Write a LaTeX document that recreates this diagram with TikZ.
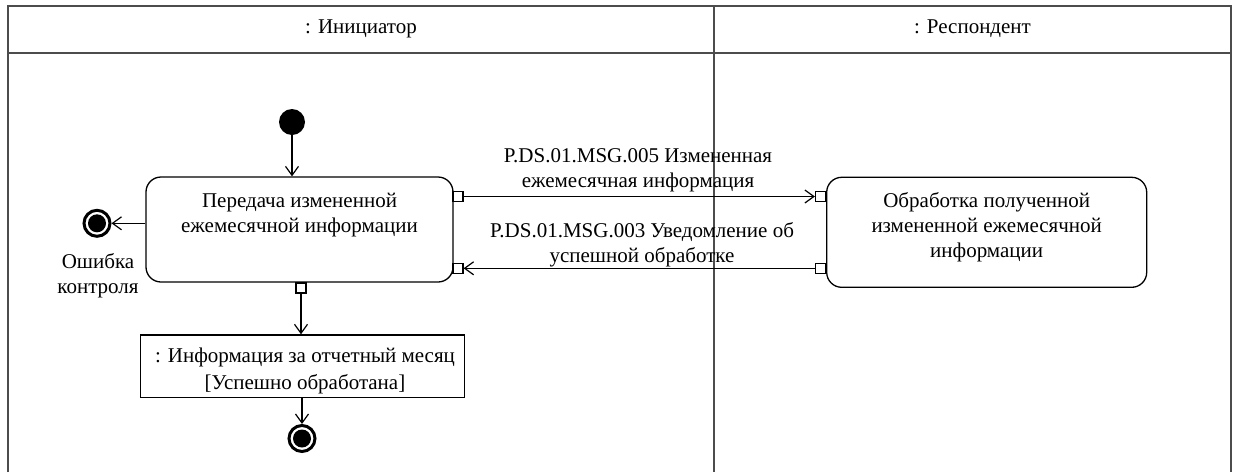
\documentclass[tikz,border=0pt]{standalone}
\usepackage{fontspec}
\setmainfont{Liberation Serif}
\usetikzlibrary{arrows.meta}
\begin{document}
\begin{tikzpicture}[x=1pt,y=-1pt,
  txt/.style={font=\fontsize{21}{25}\selectfont, align=center, inner sep=0pt},
  frameline/.style={line width=2pt, draw=black!70},
  actbox/.style={draw, line width=1.3pt, rounded corners=15pt, inner sep=0pt},
  objbox/.style={draw, line width=1.3pt, inner sep=0pt},
  pin/.style={draw, fill=white, line width=1.2pt, minimum size=10pt, inner sep=0pt},
  flow/.style={line width=1.2pt, -{Straight Barb[length=9pt,width=13pt,line width=1.2pt]}},
  initnode/.style={circle, fill=black, minimum size=26pt, inner sep=0pt},
  finalnode/.style={circle, draw, line width=3pt, fill=white, minimum size=26pt, inner sep=0pt,
    path picture={\fill[black] (path picture bounding box.center) circle (9pt);}}
]
\useasboundingbox (0,0) rectangle (1235,472);
\fill[white] (0,0) rectangle (1235,472);

% frame
\draw[frameline] (8,472) -- (8,6) -- (1231,6) -- (1231,472);
\draw[frameline] (8,52.5) -- (1231,52.5);
\draw[frameline] (714,6) -- (714,472);
\node[txt] (lane1) at (361,29) {: Инициатор};
\node[txt] (lane2) at (972.5,29) {: Респондент};

% initial
\node[initnode] (init) at (292,122) {};

% activity 1
\node[actbox, minimum width=307pt, minimum height=105pt] (box1) at (299.5,229.5) {};
\node[txt] (box1text) at (299.5,215.5) {Передача измененной\\ежемесячной информации};

% activity 2
\node[actbox, minimum width=320pt, minimum height=110pt] (box2) at (986.7,232.3) {};
\node[txt] (box2text) at (986.7,227.5) {Обработка полученной\\измененной ежемесячной\\информации};

% pins
\node[pin] (p1a) at (458,196.5) {};
\node[pin] (p1b) at (458,268.3) {};
\node[pin] (p1c) at (301,288) {};
\node[pin] (p2a) at (820.5,196.5) {};
\node[pin] (p2b) at (820.5,268.3) {};

% messages
\draw[flow] (p1a.east) -- (p2a.west);
\draw[flow] (p2b.west) -- (p1b.east);
\node[txt] (msg1) at (638,170.5) {P.DS.01.MSG.005 Измененная\\ежемесячная информация};
\node[txt] (msg2) at (642,244.5) {P.DS.01.MSG.003 Уведомление об\\успешной обработке};

% initial flow
\draw[flow] (init.south) -- (init.south |- box1.north);

% error final
\node[finalnode] (lfinal) at (97,223.3) {};
\draw[flow] (box1.west |- lfinal.east) -- (lfinal.east);
\node[txt] (errlabel) at (98,275.5) {Ошибка\\контроля};

% object node
\node[objbox, minimum width=324pt, minimum height=62.7pt] (obj) at (302.8,366.3) {};
\node[txt] (objtext) at (305,371) {: Информация за отчетный месяц\\[2pt][Успешно обработана]};
\draw[flow] (p1c.south) -- (p1c.south |- obj.north);

% final
\node[finalnode] (bfinal) at (302,438.5) {};
\draw[flow] (bfinal.north |- obj.south) -- (bfinal.north);
\end{tikzpicture}
\end{document}
